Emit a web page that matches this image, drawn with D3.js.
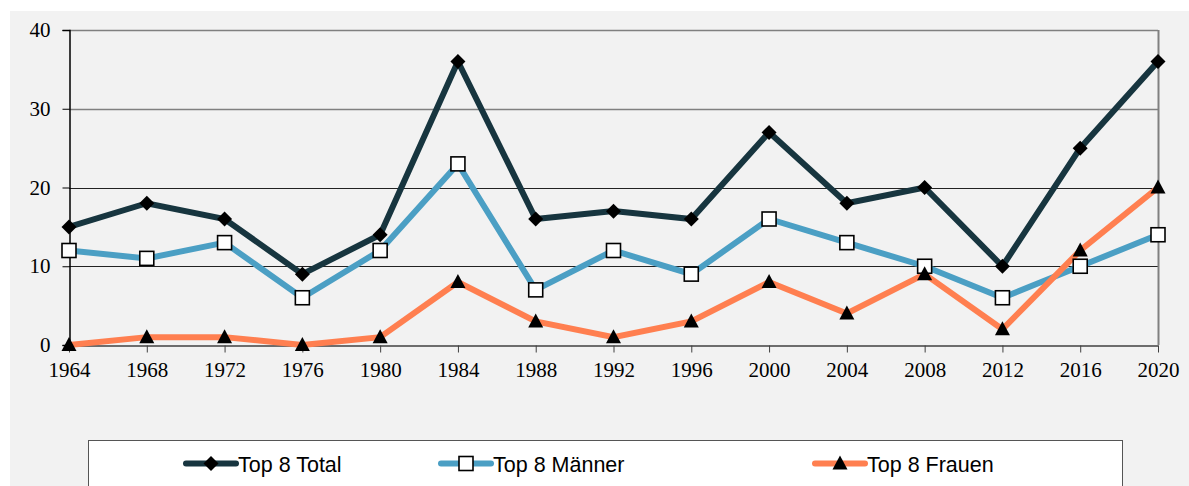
<!DOCTYPE html>
<html><head><meta charset="utf-8">
<script src="https://cdn.jsdelivr.net/npm/d3@7"></script>
<style>body{margin:0;background:#fff}svg{display:block}</style>
</head><body>
<svg id="c" width="1189" height="486"></svg>
<script>
const years = [1964,1968,1972,1976,1980,1984,1988,1992,1996,2000,2004,2008,2012,2016,2020];
const total = [15,18,16,9,14,36,16,17,16,27,18,20,10,25,36];
const maenner = [12,11,13,6,12,23,7,12,9,16,13,10,6,10,14];
const frauen = [0,1,1,0,1,8,3,1,3,8,4,9,2,12,20];
const yTicks = [0,10,20,30,40];
const seriesNames = ["Top 8 Total","Top 8 Männer","Top 8 Frauen"];

const svg = d3.select("#c");
svg.append("rect").attr("x",10).attr("y",11).attr("width",1179).attr("height",475).attr("fill","#f2f2f2");

const x = d3.scalePoint().domain(years).range([69,1158]);
const y = d3.scaleLinear().domain([0,40]).range([345,30]);

// gridlines
svg.append("g").selectAll("line").data(yTicks.filter(d=>d>0)).join("line")
  .attr("x1",69).attr("x2",1158)
  .attr("y1",d=>Math.round(y(d))+0.5).attr("y2",d=>Math.round(y(d))+0.5)
  .attr("stroke",d=>d>=30?"#808080":"#222").attr("stroke-width",d=>d>=30?1.5:1);
// right border
svg.append("line").attr("x1",1158.5).attr("x2",1158.5).attr("y1",y(40)).attr("y2",y(0)).attr("stroke","#808080").attr("stroke-width",2);

// y axis
const yAx = svg.append("g").attr("transform","translate(69.5,0)")
  .call(d3.axisLeft(y).tickValues(yTicks).tickSize(7).tickPadding(12));
yAx.select(".domain").attr("stroke","#000").attr("stroke-width",1.5);
yAx.selectAll(".tick line").attr("stroke","#000");
yAx.selectAll("text").attr("font-family","Liberation Serif").attr("font-size",21).attr("fill","#000");

// x axis
const xAx = svg.append("g").attr("transform","translate(0,345.5)")
  .call(d3.axisBottom(x).tickSize(7).tickPadding(10).tickSizeOuter(0));
xAx.select(".domain").attr("stroke","#404040").attr("stroke-width",1.5);
xAx.selectAll(".tick line").attr("stroke","#404040");
xAx.selectAll("text").attr("font-family","Liberation Serif").attr("font-size",21).attr("fill","#000");

const colors = ["#17353f","#4b9fc4","#ff7f50"];
const data = [total, maenner, frauen];
const line = d3.line().x((d,i)=>x(years[i])).y(d=>y(d));

function marker(g, k, cx, cy){
  if(k===0){
    g.append("path").attr("d","M0,-7.5L7.5,0L0,7.5L-7.5,0Z").attr("transform",`translate(${cx},${cy})`).attr("fill","#000");
  } else if(k===1){
    g.append("rect").attr("x",cx-7).attr("y",cy-7).attr("width",14).attr("height",14).attr("fill","#fff").attr("stroke","#000").attr("stroke-width",1.6);
  } else {
    g.append("path").attr("d","M0,-8L7.5,6L-7.5,6Z").attr("transform",`translate(${cx},${cy})`).attr("fill","#000");
  }
}

[1,2,0].forEach(k=>{
  svg.append("path").datum(data[k]).attr("d",line).attr("fill","none")
    .attr("stroke",colors[k]).attr("stroke-width",6).attr("stroke-linejoin","miter");
});
[1,2,0].forEach(k=>{
  const g = svg.append("g");
  data[k].forEach((v,i)=>marker(g,k,x(years[i]),y(v)));
});

// legend
svg.append("rect").attr("x",88.5).attr("y",440.5).attr("width",1034).attr("height",60)
  .attr("fill","#fff").attr("stroke","#555").attr("stroke-width",1);
const legX = [186, 441, 815];
seriesNames.forEach((n,k)=>{
  const g = svg.append("g");
  g.append("line").attr("x1",legX[k]).attr("x2",legX[k]+50).attr("y1",463.5).attr("y2",463.5)
    .attr("stroke",colors[k]).attr("stroke-width",6).attr("stroke-linecap","round");
  marker(g,k,legX[k]+25,463.5);
  g.append("text").attr("x",legX[k]+52).attr("y",471.5).attr("font-family","Liberation Sans")
    .attr("font-size",21.5).attr("fill","#000").text(n);
});
</script>
</body></html>
